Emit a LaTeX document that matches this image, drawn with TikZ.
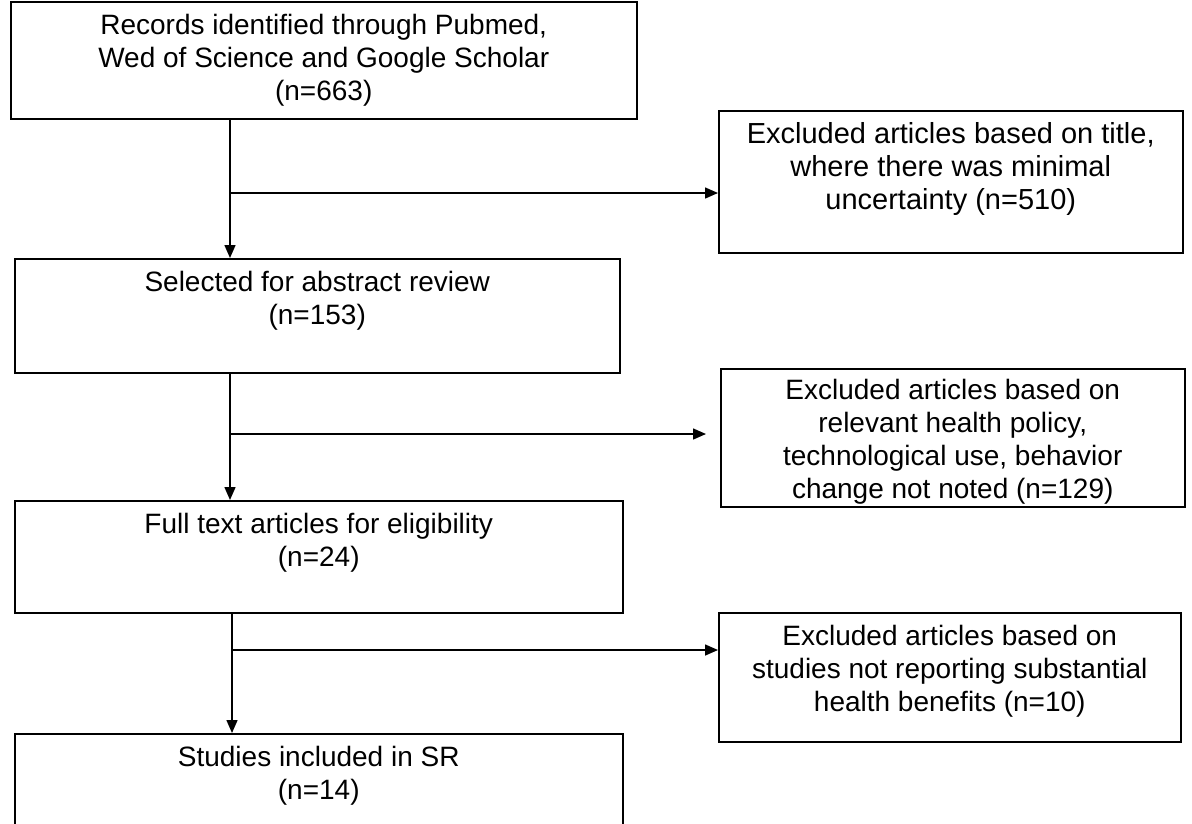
\documentclass[tikz,border=0pt]{standalone}
\usepackage{fontspec}
\setmainfont{Liberation Sans}
\usetikzlibrary{arrows.meta,calc,positioning}

\tikzset{
  box/.style={draw,anchor=north west,inner sep=0pt},
  txt/.style={anchor=north,align=center,inner sep=0pt,yshift=-12pt,font=\fontsize{28}{33}\selectfont},
  flow/.style={->}
}

\begin{document}
\begin{tikzpicture}[x=1pt,y=-1pt,line width=1.5pt,>={Triangle[length=13pt,width=11pt]}]
        \useasboundingbox (0,0) rectangle (1192,823);
        % left column
        \node[box,minimum width=626pt,minimum height=117pt,
          label={[txt]north:Records identified through Pubmed,\\Wed of Science and Google Scholar\\(n=663)}] (recs) at (10,1) {};
        \node[box,minimum width=605pt,minimum height=114pt,
          label={[txt]north:Selected for abstract review\\(n=153)}] (abst) at (14,258) {};
        \node[box,minimum width=608pt,minimum height=112pt,
          label={[txt]north:Full text articles for eligibility\\(n=24)}] (full) at (14,500) {};
        \node[box,minimum width=608pt,minimum height=110pt,
          label={[txt]north:Studies included in SR\\(n=14)}] (incl) at (14,733) {};
        % right column
        \node[box,minimum width=464pt,minimum height=142pt,
          label={[txt,font=\fontsize{29}{33}\selectfont]north:Excluded articles based on title,\\where there was minimal\\uncertainty (n=510)}] (extitle) at (718,110) {};
        \node[box,minimum width=464pt,minimum height=138pt,
          label={[txt,yshift=2pt]north:Excluded articles based on\\relevant health policy,\\technological use, behavior\\change not noted (n=129)}] (expolicy) at (720,368) {};
        \node[box,minimum width=462pt,minimum height=129pt,
          label={[txt]north:Excluded articles based on\\studies not reporting substantial\\health benefits (n=10)}] (exbenefit) at (718,612) {};
        % junctions
        \coordinate (j1) at (230,193);
        \coordinate (j2) at (230,434);
        \coordinate (j3) at (232,650);
        \draw[flow] (recs.south -| j1) -- (abst.north -| j1);
        \draw[flow] (j1) -- (j1 -| extitle.west);
        \draw[flow] (abst.south -| j2) -- (full.north -| j2);
        \draw[flow] (j2) -- ($(j2 -| expolicy.west)+(-14,0)$);
        \draw[flow] (full.south -| j3) -- (incl.north -| j3);
        \draw[flow] (j3) -- (j3 -| exbenefit.west);
\end{tikzpicture}
\end{document}
